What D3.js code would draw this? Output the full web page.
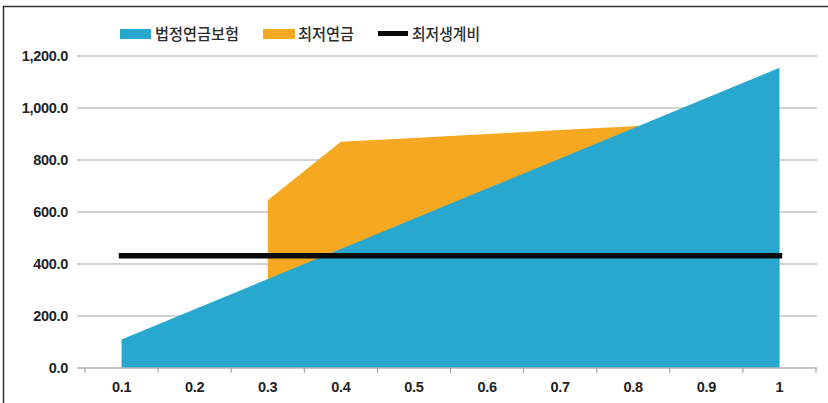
<!DOCTYPE html>
<html>
<head>
<meta charset="utf-8">
<script src="https://cdn.jsdelivr.net/npm/d3@7"></script>
<style>
  body { margin: 0; background: #fff; }
  svg { display: block; }
  .tick-label { font-family: "Liberation Sans", Arial, sans-serif; font-weight: bold; font-size: 14.5px; fill: #222; letter-spacing: -0.3px; }
  .legend-text { font-family: "Noto Sans CJK KR", sans-serif; font-size: 16px; font-weight: 500; fill: #2b2b2b; }
</style>
</head>
<body>
<script>
// chart data
var categories = ["0.1", "0.2", "0.3", "0.4", "0.5", "0.6", "0.7", "0.8", "0.9", "1"];
var pension = [110, 226, 342, 458, 574, 690, 806, 922, 1038, 1155];   // 법정연금보험
var minPension = [null, null, 645, 870, 885, 900, 915, 930, 945, 960]; // 최저연금
var minLiving = [432, 432, 432, 432, 432, 432, 432, 432, 432, 432];   // 최저생계비
var yTicks = [0, 200, 400, 600, 800, 1000, 1200];
var seriesNames = ["법정연금보험", "최저연금", "최저생계비"];

var width = 828;
var height = 403;
var blue = "#29a8cf";
var orange = "#f6a820";

var svg = d3.select("body")
    .append("svg")
    .attr("width", width)
    .attr("height", height);

// frame (top and left edges only)
svg.append("line")
    .attr("x1", 3).attr("x2", width).attr("y1", 6.5).attr("y2", 6.5)
    .attr("stroke", "#333").attr("stroke-width", 1.5);
svg.append("line")
    .attr("x1", 3.5).attr("x2", 3.5).attr("y1", 6).attr("y2", height)
    .attr("stroke", "#333").attr("stroke-width", 1.5);

var xScale = d3.scaleBand()
    .domain(categories)
    .range([85, 816])
    .paddingInner(0)
    .paddingOuter(0);

var xPos = function (i) { return xScale(categories[i]) + xScale.bandwidth() / 2; };

var yScale = d3.scaleLinear()
    .domain([0, 1200])
    .range([368, 56]);

// gridlines
svg.append("g")
    .selectAll("line")
    .data(yTicks.filter(function (d) { return d > 0; }))
    .enter()
    .append("line")
    .attr("x1", 77).attr("x2", 817)
    .attr("y1", function (d) { return yScale(d); })
    .attr("y2", function (d) { return yScale(d); })
    .attr("stroke", "#c4c4c4")
    .attr("stroke-width", 1.5);

// y labels
svg.append("g")
    .selectAll("text")
    .data(yTicks)
    .enter()
    .append("text")
    .attr("class", "tick-label")
    .attr("x", 68)
    .attr("y", function (d) { return yScale(d); })
    .attr("dy", "0.36em")
    .attr("text-anchor", "end")
    .text(function (d) { return d3.format(",.1f")(d); });

// orange area (drawn first, blue covers it)
var orangeArea = d3.area()
    .defined(function (d) { return d != null; })
    .x(function (d, i) { return xPos(i); })
    .y0(yScale(0))
    .y1(function (d) { return yScale(d); });

svg.append("path")
    .datum(minPension)
    .attr("fill", orange)
    .attr("d", orangeArea);

var blueArea = d3.area()
    .x(function (d, i) { return xPos(i); })
    .y0(yScale(0))
    .y1(function (d) { return yScale(d); });

svg.append("path")
    .datum(pension)
    .attr("fill", blue)
    .attr("d", blueArea);

// x axis
var xAxis = svg.append("g");
xAxis.append("line")
    .attr("x1", 77).attr("x2", 817)
    .attr("y1", yScale(0)).attr("y2", yScale(0))
    .attr("stroke", "#b5b5b5").attr("stroke-width", 1.5);

var boundaries = categories.map(function (c) { return xScale(c); }).concat([xScale.range()[1]]);
xAxis.selectAll(".tk")
    .data(boundaries)
    .enter()
    .append("line")
    .attr("class", "tk")
    .attr("x1", function (d) { return d; })
    .attr("x2", function (d) { return d; })
    .attr("y1", yScale(0))
    .attr("y2", yScale(0) + 5)
    .attr("stroke", "#999")
    .attr("stroke-width", 1);

xAxis.selectAll("text")
    .data(categories)
    .enter()
    .append("text")
    .attr("class", "tick-label")
    .attr("x", function (d, i) { return xPos(i); })
    .attr("y", 387)
    .attr("dy", "0.36em")
    .attr("text-anchor", "middle")
    .text(function (d) { return d; });

// black line on top
var line = d3.line()
    .x(function (d, i) { return xPos(i); })
    .y(function (d) { return yScale(d); });

svg.append("path")
    .datum(minLiving)
    .attr("fill", "none")
    .attr("stroke", "#0a0a0a")
    .attr("stroke-width", 5.5)
    .attr("stroke-linecap", "square")
    .attr("d", line);

// legend
var legend = svg.append("g");
legend.append("rect")
    .attr("x", 120).attr("y", 29).attr("width", 31).attr("height", 10)
    .attr("fill", blue);
legend.append("rect")
    .attr("x", 263).attr("y", 29).attr("width", 32).attr("height", 10)
    .attr("fill", orange);
legend.append("line")
    .attr("x1", 378).attr("x2", 408).attr("y1", 33.5).attr("y2", 33.5)
    .attr("stroke", "#0a0a0a").attr("stroke-width", 5);

var legendText = [
    { x: 155, w: 84 },
    { x: 298, w: 56 },
    { x: 412, w: 68 }
];
legend.selectAll("text")
    .data(seriesNames)
    .enter()
    .append("text")
    .attr("class", "legend-text")
    .attr("x", function (d, i) { return legendText[i].x; })
    .attr("y", 34)
    .attr("dy", "0.36em")
    .attr("textLength", function (d, i) { return legendText[i].w; })
    .attr("lengthAdjust", "spacingAndGlyphs")
    .text(function (d) { return d; });
</script>
</body>
</html>
